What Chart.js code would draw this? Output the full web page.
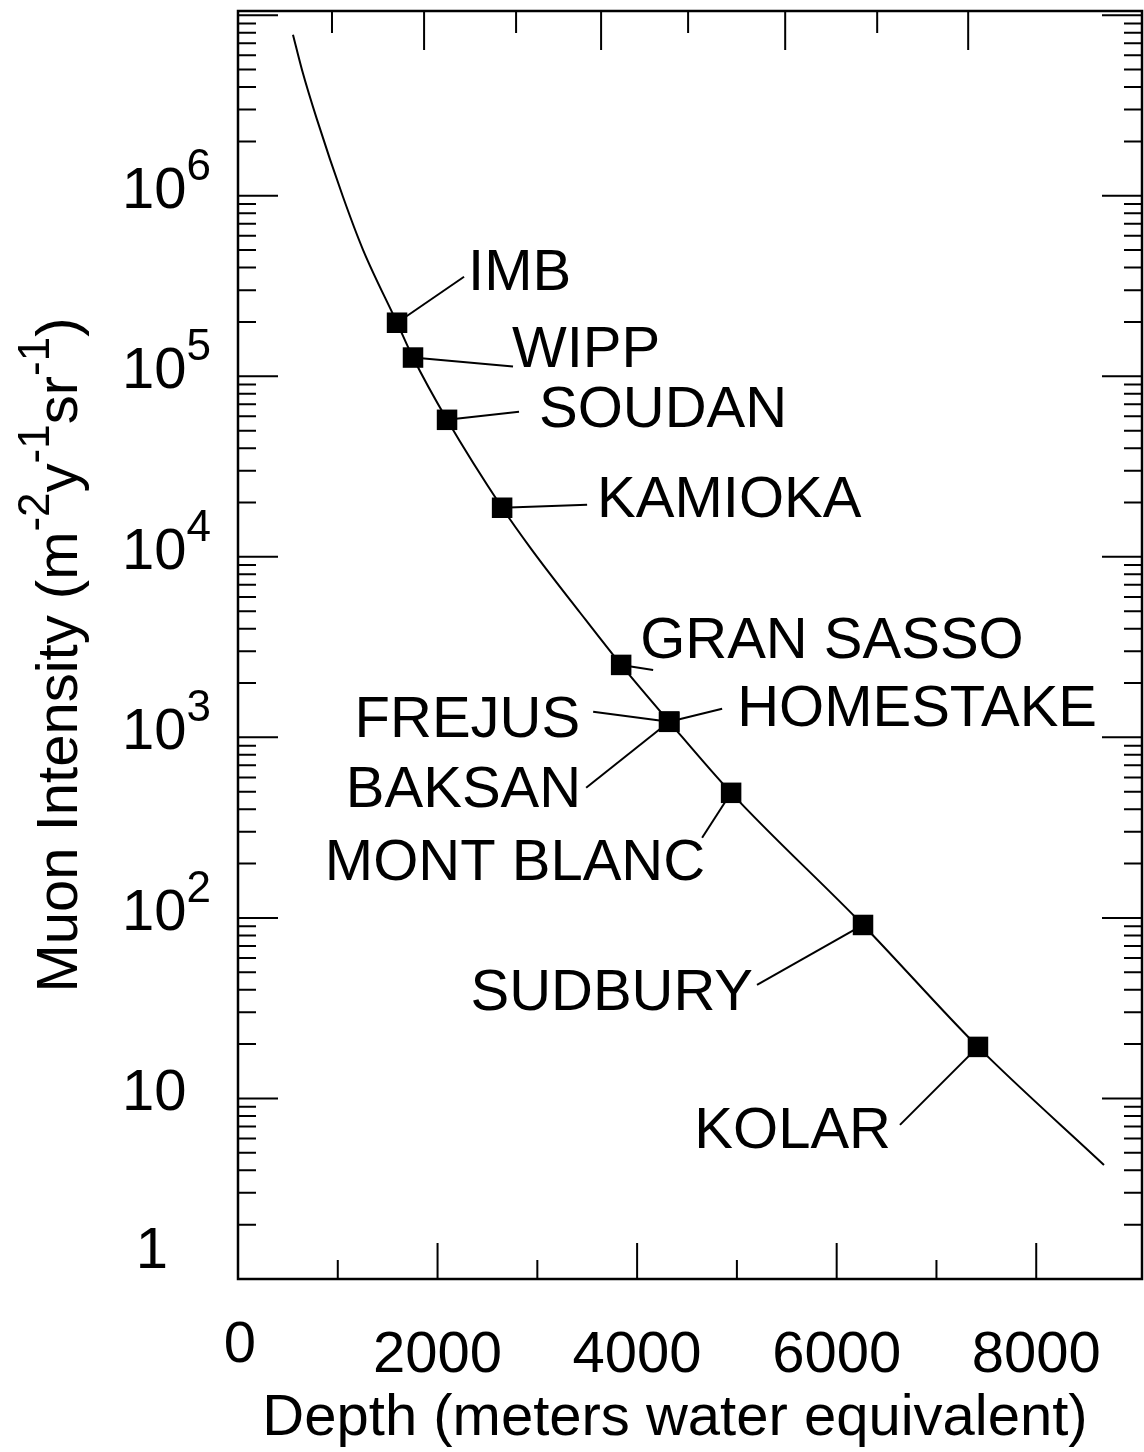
<!DOCTYPE html>
<html>
<head>
<meta charset="utf-8">
<script src="https://cdn.jsdelivr.net/npm/chart.js@4.4.0/dist/chart.umd.min.js"></script>
<style>
  html, body { margin: 0; padding: 0; background: #fff; }
</style>
</head>
<body>
<canvas id="myChart" width="1144" height="1452"></canvas>
<script>
// depth-intensity curve (m.w.e. vs m^-2 y^-1 sr^-1)
var curveDepth = [551, 641, 792, 1052, 1253, 1594, 1754, 2095, 2647, 2947, 3429, 3840, 4321, 4942, 6264, 7416, 8679];
var curveIntensity = [7.8e6, 4.99e6, 2.64e6, 9.87e5, 5.02e5, 1.98e5, 1.27e5, 5.74e4, 1.87e4, 1.09e4, 4.9e3, 2.52e3, 1.22e3, 493, 91.4, 19.3, 4.28];

// underground labs
var labNames = ["IMB", "WIPP", "SOUDAN", "KAMIOKA", "GRAN SASSO", "FREJUS", "HOMESTAKE", "BAKSAN", "MONT BLANC", "SUDBURY", "KOLAR"];
var labDepth = [1594, 1754, 2095, 2647, 3840, 4321, 4321, 4321, 4942, 6264, 7416];
var labIntensity = [1.98e5, 1.27e5, 5.74e4, 1.87e4, 2.52e3, 1.22e3, 1.22e3, 1.22e3, 493, 91.4, 19.3];

// axis ticks
var xTickValues = [0, 2000, 4000, 6000, 8000];
var xTickLabels = ["0", "2000", "4000", "6000", "8000"];
var yTickExponents = [0, 1, 2, 3, 4, 5, 6];
var topTickValues = [942, 1865, 2787, 3639, 4511, 5484, 6406, 7318];

// where each name and its leader line sit, in px from the marker
var labelLayout = [
  { lx: 67, ly: -46, tx: 71, ty: -33, align: "left" },
  { lx: 100, ly: 9, tx: 99, ty: 9, align: "left" },
  { lx: 72, ly: -8, tx: 92, ty: 7, align: "left" },
  { lx: 85, ly: -3, tx: 95, ty: 9, align: "left" },
  { lx: 32, ly: 5, tx: 19, ty: -7, align: "left" },
  { lx: -76, ly: -10, tx: -89, ty: 15, align: "right" },
  { lx: 53, ly: -13, tx: 68, ty: 4, align: "left" },
  { lx: -83, ly: 66, tx: -88, ty: 85, align: "right" },
  { lx: -29, ly: 45, tx: -26, ty: 87, align: "right" },
  { lx: -106, ly: 60, tx: -110, ty: 85, align: "right" },
  { lx: -78, ly: 78, tx: -87, ty: 101, align: "right" }
];

var FONT = '"Liberation Sans", Arial, Helvetica, sans-serif';

function drawPieces(ctx, pieces, x, y) {
  // pieces: [text, isSup]
  var cx = x;
  pieces.forEach(function (p) {
    ctx.font = (p[1] ? "44px " : "58px ") + FONT;
    ctx.fillText(p[0], cx, p[1] ? y - 28 : y);
    cx += ctx.measureText(p[0]).width;
  });
  return cx - x;
}

function piecesWidth(ctx, pieces) {
  var w = 0;
  pieces.forEach(function (p) {
    ctx.font = (p[1] ? "44px " : "58px ") + FONT;
    w += ctx.measureText(p[0]).width;
  });
  return w;
}

var axesPlugin = {
  id: "axesPlugin",
  beforeDatasetsDraw: function (chart) {
    var ctx = chart.ctx, xs = chart.scales.x, ys = chart.scales.y;
    ctx.save();
    ctx.strokeStyle = "#000";
    ctx.lineWidth = 2;
    labNames.forEach(function (name, i) {
      var px = xs.getPixelForValue(labDepth[i]);
      var py = ys.getPixelForValue(labIntensity[i]);
      var l = labelLayout[i];
      ctx.beginPath();
      ctx.moveTo(px, py);
      ctx.lineTo(px + l.lx, py + l.ly);
      ctx.stroke();
    });
    ctx.restore();
  },
  afterDatasetsDraw: function (chart) {
    var ctx = chart.ctx, xs = chart.scales.x, ys = chart.scales.y;
    var a = chart.chartArea;
    ctx.save();
    ctx.strokeStyle = "#000";
    ctx.fillStyle = "#000";

    // frame
    ctx.lineWidth = 2.5;
    ctx.strokeRect(a.left, a.top, a.right - a.left, a.bottom - a.top);

    // log ticks on left and right
    ctx.lineWidth = 2;
    ctx.beginPath();
    for (var d = 0; d <= 7; d++) {
      for (var m = 1; m <= 9; m++) {
        var v = m * Math.pow(10, d);
        if (v < ys.min || v > ys.max) continue;
        var py = ys.getPixelForValue(v);
        var len = m === 1 ? 40 : 18;
        ctx.moveTo(a.left, py); ctx.lineTo(a.left + len, py);
        ctx.moveTo(a.right, py); ctx.lineTo(a.right - len, py);
      }
    }
    // bottom ticks
    for (var t = 1000; t <= 8000; t += 1000) {
      var bx = xs.getPixelForValue(t);
      var blen = (t % 2000 === 0) ? 36 : 19;
      ctx.moveTo(bx, a.bottom); ctx.lineTo(bx, a.bottom - blen);
    }
    // top ticks
    topTickValues.forEach(function (v, i) {
      var tx = xs.getPixelForValue(v);
      var tlen = (i % 2 === 1) ? 39 : 22;
      ctx.moveTo(tx, a.top); ctx.lineTo(tx, a.top + tlen);
    });
    ctx.stroke();

    // x tick labels
    ctx.font = "58px " + FONT;
    ctx.textAlign = "center";
    ctx.textBaseline = "alphabetic";
    xTickValues.forEach(function (v, i) {
      var lx = xs.getPixelForValue(v);
      var by = a.bottom + (v === 0 ? 83 : 93);
      ctx.fillText(xTickLabels[i], v === 0 ? lx + 2 : lx, by);
    });

    // x title
    ctx.fillText("Depth (meters water equivalent)", 675, a.bottom + 156);

    // y tick labels
    ctx.textAlign = "left";
    yTickExponents.forEach(function (e) {
      var py = ys.getPixelForValue(Math.pow(10, e));
      if (e === 0) {
        ctx.font = "58px " + FONT;
        ctx.textAlign = "center";
        ctx.fillText("1", 152, py - 11);
        ctx.textAlign = "left";
      } else if (e === 1) {
        drawPieces(ctx, [["10", false]], 122, py + 12);
      } else {
        drawPieces(ctx, [["10", false], [String(e), true]], 122, py + 12);
      }
    });

    // y title
    var title = [["Muon Intensity (m", false], ["-2", true], ["y", false], ["-1", true], ["sr", false], ["-1", true], [")", false]];
    var tw = piecesWidth(ctx, title);
    ctx.translate(77, 655);
    ctx.rotate(-Math.PI / 2);
    ctx.textAlign = "left";
    drawPieces(ctx, title, -tw / 2, 0);
    ctx.setTransform(1, 0, 0, 1, 0, 0);

    // lab names
    ctx.font = "58px " + FONT;
    labNames.forEach(function (name, i) {
      var px = xs.getPixelForValue(labDepth[i]);
      var py = ys.getPixelForValue(labIntensity[i]);
      var l = labelLayout[i];
      ctx.textAlign = l.align;
      ctx.fillText(name, px + l.tx, py + l.ty);
    });
    ctx.restore();
  }
};

var curvePoints = curveDepth.map(function (d, i) { return { x: d, y: curveIntensity[i] }; });
var labPoints = labDepth.map(function (d, i) { return { x: d, y: labIntensity[i] }; });

new Chart("myChart", {
  type: "scatter",
  data: {
    datasets: [{
      type: "line",
      data: curvePoints,
      borderColor: "#000",
      borderWidth: 2,
      pointRadius: 0,
      fill: false,
      cubicInterpolationMode: "monotone"
    }, {
      data: labPoints,
      pointStyle: "rect",
      pointRadius: 14.5,
      backgroundColor: "#000",
      borderColor: "#000",
      borderWidth: 0
    }]
  },
  options: {
    responsive: false,
    animation: false,
    devicePixelRatio: 1,
    layout: { autoPadding: false, padding: { left: 238, top: 11, right: 2, bottom: 173 } },
    plugins: { legend: { display: false }, tooltip: { enabled: false } },
    scales: {
      x: { type: "linear", min: 0, max: 9060, display: false },
      y: { type: "logarithmic", min: 1, max: 1.055e7, display: false }
    }
  },
  plugins: [axesPlugin]
});
</script>
</body>
</html>
